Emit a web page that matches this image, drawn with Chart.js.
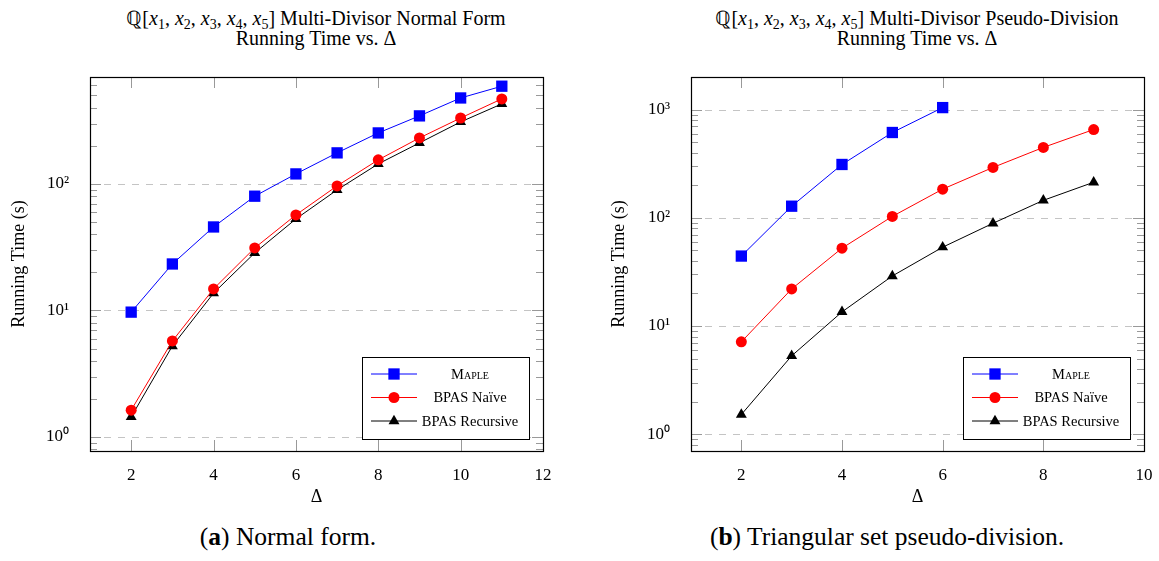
<!DOCTYPE html>
<html lang="en">
<head>
    <meta charset="UTF-8">
    <title>Multi-Divisor Running Time vs. Delta</title>
    <script src="https://cdn.jsdelivr.net/npm/chart.js"></script>
    <style>
        body {
            margin: 0;
            background: #fff;
            font-family: "Liberation Serif", serif;
            color: #000;
        }
        .wrap {
            position: relative;
            width: 1159px;
            height: 561px;
        }
        canvas {
            position: absolute;
            top: 0;
        }
        .title {
            position: absolute;
            top: 8px;
            width: 560px;
            text-align: center;
            font-size: 20px;
            line-height: 20px;
        }
        .title sub {
            font-size: 0.7em;
            vertical-align: -0.25em;
            line-height: 0;
        }
        .caption {
            position: absolute;
            top: 522px;
            width: 560px;
            text-align: center;
            font-size: 25.5px;
        }
    </style>
</head>
<body>
<div class="wrap">
    <div class="title" style="left: 36px;">ℚ[<i>x</i><sub>1</sub>, <i>x</i><sub>2</sub>, <i>x</i><sub>3</sub>, <i>x</i><sub>4</sub>, <i>x</i><sub>5</sub>] Multi-Divisor Normal Form<br>Running Time vs. Δ</div>
    <div class="title" style="left: 637px;">ℚ[<i>x</i><sub>1</sub>, <i>x</i><sub>2</sub>, <i>x</i><sub>3</sub>, <i>x</i><sub>4</sub>, <i>x</i><sub>5</sub>] Multi-Divisor Pseudo-Division<br>Running Time vs. Δ</div>

    <canvas id="chartNF" width="575" height="515" style="left: 0px;"></canvas>
    <canvas id="chartPD" width="563" height="515" style="left: 596px;"></canvas>

    <div class="caption" style="left: 8px;">(<b>a</b>) Normal form.</div>
    <div class="caption" style="left: 607px;">(<b>b</b>) Triangular set pseudo-division.</div>
</div>
<script>
    // (a) normal form
    const deltaNF = [2, 3, 4, 5, 6, 7, 8, 9, 10, 11];
    const mapleNF = [9.7, 23.3, 45.7, 80, 120, 176, 253, 345, 478, 592];
    const naiveNF = [1.63, 5.74, 14.8, 31.2, 56.9, 96.5, 155, 231, 332, 470];
    const recurNF = [1.44, 5.24, 13.7, 28.5, 52.9, 89.7, 144, 211, 309, 429];
    const xTicksNF = [2, 4, 6, 8, 10, 12];
    const yTicksNF = [1, 10, 100];
    const yLabelsNF = ['10⁰', '10¹', '10²'];

    // (b) pseudo-division
    const deltaPD = [2, 3, 4, 5, 6, 7, 8, 9];
    const maplePD = [44.3, 128, 311, 614, 1043];
    const naivePD = [7.14, 22, 52.4, 103, 184, 292, 447, 654];
    const recurPD = [1.52, 5.3, 13.5, 29, 53.5, 89, 145, 213];
    const xTicksPD = [2, 4, 6, 8, 10];
    const yTicksPD = [1, 10, 100, 1000];
    const yLabelsPD = ['10⁰', '10¹', '10²', '10³'];

    const seriesNames = ['Maple', 'BPAS Naïve', 'BPAS Recursive'];
    const FONT = '"Liberation Serif", serif';

    Chart.defaults.color = '#000';
    Chart.defaults.font.family = FONT;

    function points(xs, ys) {
        return ys.map((y, i) => ({ x: xs[i], y: y }));
    }

    function makeDataset(label, data, color, style, radius) {
        return {
            label: label,
            data: data,
            borderColor: color,
            backgroundColor: color,
            borderWidth: 1,
            pointStyle: style,
            pointRadius: radius,
            pointHoverRadius: radius,
            pointBorderWidth: 0,
            pointBackgroundColor: color,
            fill: false,
            tension: 0
        };
    }

    function drawMarker(ctx, style, r, x, y) {
        ctx.beginPath();
        if (style === 'rect') {
            const s = Math.SQRT1_2 * r;
            ctx.rect(x - s, y - s, 2 * s, 2 * s);
        } else if (style === 'triangle') {
            let a = 0;
            ctx.moveTo(x + Math.sin(a) * r, y - Math.cos(a) * r);
            a += 2 * Math.PI / 3;
            ctx.lineTo(x + Math.sin(a) * r, y - Math.cos(a) * r);
            a += 2 * Math.PI / 3;
            ctx.lineTo(x + Math.sin(a) * r, y - Math.cos(a) * r);
            ctx.closePath();
        } else {
            ctx.arc(x, y, r, 0, Math.PI * 2);
        }
        ctx.fill();
    }

    // dashed major grid, inner tick marks and the box frame
    const framePlugin = {
        id: 'frame',
        beforeDatasetsDraw(chart) {
            const { ctx, chartArea: a } = chart;
            const xs = chart.scales.x, ys = chart.scales.y;
            ctx.save();
            ctx.lineWidth = 1;

            ctx.strokeStyle = '#c4c4c4';
            ctx.setLineDash([7, 7]);
            ys.ticks.forEach(t => {
                const y = Math.round(ys.getPixelForValue(t.value)) + 0.5;
                ctx.beginPath();
                ctx.moveTo(a.left, y);
                ctx.lineTo(a.right, y);
                ctx.stroke();
            });
            ctx.setLineDash([]);

            ctx.strokeStyle = '#999';
            const minor = [];
            for (let d = 0.1; d <= 1000; d *= 10) {
                for (let k = 2; k <= 9; k++) {
                    const v = d * k;
                    if (v > ys.min && v < ys.max) minor.push(v);
                }
            }
            ctx.beginPath();
            minor.forEach(v => {
                const y = Math.round(ys.getPixelForValue(v)) + 0.5;
                ctx.moveTo(a.left, y); ctx.lineTo(a.left + 7, y);
                ctx.moveTo(a.right, y); ctx.lineTo(a.right - 7, y);
            });
            ys.ticks.forEach(t => {
                const y = Math.round(ys.getPixelForValue(t.value)) + 0.5;
                ctx.moveTo(a.left, y); ctx.lineTo(a.left + 11, y);
                ctx.moveTo(a.right, y); ctx.lineTo(a.right - 11, y);
            });
            xs.ticks.forEach(t => {
                const x = Math.round(xs.getPixelForValue(t.value)) + 0.5;
                ctx.moveTo(x, a.bottom); ctx.lineTo(x, a.bottom - 11);
                ctx.moveTo(x, a.top); ctx.lineTo(x, a.top + 11);
            });
            ctx.stroke();

            ctx.strokeStyle = '#000';
            ctx.lineWidth = 1.2;
            ctx.strokeRect(Math.round(a.left) + 0.5, Math.round(a.top) + 0.5,
                Math.round(a.right - a.left), Math.round(a.bottom - a.top));
            ctx.restore();
        }
    };

    // legend box in the lower right corner of the plot
    const legendPlugin = {
        id: 'boxLegend',
        afterDraw(chart) {
            const { ctx, chartArea: a } = chart;
            const w = 167, h = 82;
            const x0 = Math.round(a.right - 14 - w), y0 = Math.round(a.bottom - 12 - h);
            ctx.save();
            ctx.fillStyle = '#fff';
            ctx.fillRect(x0, y0, w, h);
            ctx.strokeStyle = '#000';
            ctx.lineWidth = 1;
            ctx.strokeRect(x0 + 0.5, y0 + 0.5, w, h);
            chart.data.datasets.forEach((ds, i) => {
                const y = y0 + 17 + i * 23.5;
                ctx.strokeStyle = ds.borderColor;
                ctx.beginPath();
                ctx.moveTo(x0 + 9, y);
                ctx.lineTo(x0 + 55, y);
                ctx.stroke();
                ctx.fillStyle = ds.borderColor;
                drawMarker(ctx, ds.pointStyle, ds.pointRadius, x0 + 32, y);
                ctx.fillStyle = '#000';
                ctx.font = (ds.label === 'Maple' ? 'small-caps ' : '') + '14.5px ' + FONT;
                ctx.textAlign = 'center';
                ctx.textBaseline = 'middle';
                ctx.fillText(ds.label, x0 + 108, y + 1);
            });
            ctx.restore();
        }
    };

    function makeChart(id, xs, maple, naive, recur, xMax, xTicks, yMin, yMax, yTicks, yLabels, yWidth, yTitlePad, padRight) {
        const ctx = document.getElementById(id).getContext('2d');
        return new Chart(ctx, {
            type: 'line',
            data: {
                datasets: [
                    makeDataset(seriesNames[0], points(xs, maple), '#0000ff', 'rect', 8),
                    makeDataset(seriesNames[1], points(xs, naive), '#ff0000', 'circle', 5.5),
                    makeDataset(seriesNames[2], points(xs, recur), '#000000', 'triangle', 6.3)
                ]
            },
            options: {
                responsive: false,
                animation: false,
                devicePixelRatio: 1,
                layout: { padding: { top: 77, right: padRight, bottom: 0, left: 0 } },
                plugins: {
                    legend: { display: false },
                    tooltip: { enabled: false }
                },
                scales: {
                    x: {
                        type: 'linear',
                        min: 1,
                        max: xMax,
                        grid: { display: false },
                        border: { display: false },
                        afterBuildTicks: (scale) => {
                            scale.ticks = xTicks.map(v => ({ value: v }));
                        },
                        afterFit: (scale) => { scale.height = 64; },
                        ticks: {
                            autoSkip: false,
                            maxRotation: 0,
                            padding: 6,
                            font: { size: 17, family: FONT },
                            callback: (v) => String(v)
                        },
                        title: {
                            display: true,
                            text: 'Δ',
                            font: { size: 18, family: FONT },
                            padding: { top: 0, bottom: 7 }
                        }
                    },
                    y: {
                        type: 'logarithmic',
                        min: yMin,
                        max: yMax,
                        grid: { display: false },
                        border: { display: false },
                        afterBuildTicks: (scale) => {
                            scale.ticks = yTicks.map(v => ({ value: v }));
                        },
                        afterFit: (scale) => { scale.width = yWidth; },
                        ticks: {
                            autoSkip: false,
                            padding: 13,
                            font: { size: 17, family: FONT },
                            callback: (v) => yLabels[yTicks.indexOf(v)]
                        },
                        title: {
                            display: true,
                            text: 'Running Time (s)',
                            font: { size: 18, family: FONT },
                            padding: { top: yTitlePad, bottom: 0 }
                        }
                    }
                }
            },
            plugins: [framePlugin, legendPlugin]
        });
    }

    makeChart('chartNF', deltaNF, mapleNF, naiveNF, recurNF, 12, xTicksNF,
        0.775, 700, yTicksNF, yLabelsNF, 90, 8, 32);
    makeChart('chartPD', deltaPD, maplePD, naivePD, recurPD, 10, xTicksPD,
        0.727, 2000, yTicksPD, yLabelsPD, 95, 12, 15);
</script>
</body>
</html>
